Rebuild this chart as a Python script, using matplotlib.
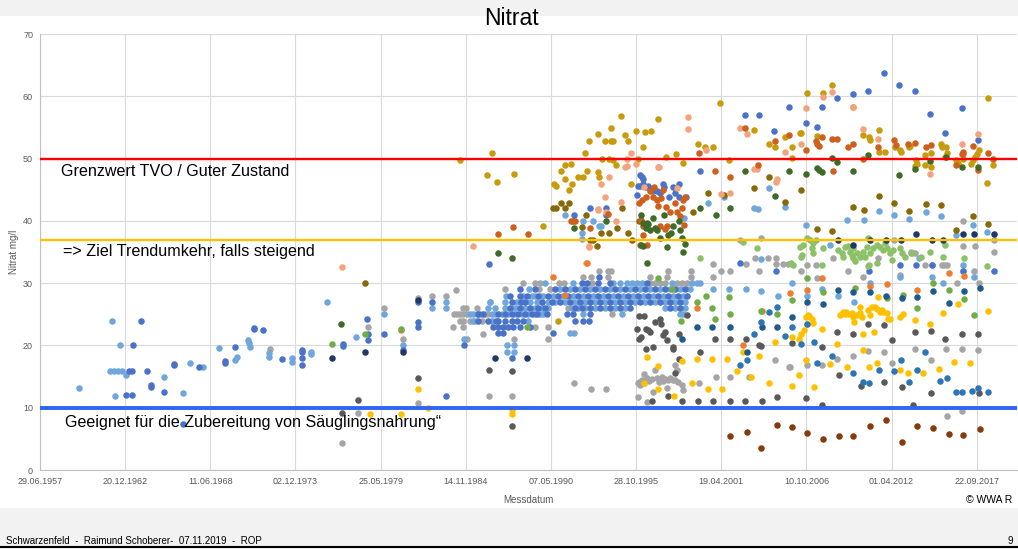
from datetime import datetime
import matplotlib
matplotlib.use("Agg")
import matplotlib.pyplot as plt
from matplotlib.patches import Rectangle
from matplotlib.lines import Line2D

hellblau = [
    (1960.0, 13.2), (1962.14, 24.0), (1962.63, 20.0), (1962.0, 15.9), (1962.25, 15.9), (1962.5, 15.9),
    (1962.75, 15.9), (1963.0, 15.3), (1962.3, 11.9), (1965.46, 15.0), (1966.7, 12.4), (1967.15, 17.1),
    (1967.99, 16.6), (1969.0, 19.6), (1970.18, 18.2), (1970.05, 17.7), (1970.86, 20.8), (1970.9, 20.4),
    (1971.0, 19.8), (1972.2, 18.8), (1972.2, 18.1), (1973.71, 18.0), (1973.71, 17.3), (1974.9, 19.0),
    (1974.9, 18.7), (1975.96, 27.0), (1977.8, 21.3), (1979.6, 25.0), (1980.85, 20.0), (1982.7, 26.0),
    (1983.6, 27.0), (1983.6, 26.0), (1984.73, 21.0), (1987.52, 20.0), (1987.97, 20.0), (1987.52, 19.0),
    (1987.97, 19.0), (1985.35, 24.0), (1986.53, 24.0), (1988.89, 24.0),
    (1985.14, 25), (1985.35, 25), (1985.57, 25), (1985.78, 25), (1986.53, 25), (1986.75, 25), (1987.18, 25),
    (1987.6, 25), (1988.03, 25), (1988.46, 25), (1988.89, 25), (1989.32, 25), (1989.64, 25), (1989.85, 25),
    (1992.42, 25), (1994.89, 25), (1998.64, 25), (1998.85, 25),
    (1986.32, 26), (1986.75, 26), (1987.39, 26), (1988.03, 26), (1988.68, 26), (1989.32, 26), (1989.75, 26),
    (1990.18, 26), (1991.68, 26), (1992.11, 26), (1992.53, 26), (1993.18, 26), (1993.82, 26), (1994.46, 26),
    (1995.11, 26), (1997.68, 26), (1998.32, 26), (1998.96, 26),
    (1986.43, 27), (1987.39, 27), (1988.14, 27), (1989.0, 27), (1989.43, 27), (1990.15, 27), (1990.6, 27),
    (1991.25, 27), (1991.89, 27), (1992.53, 27), (1993.18, 27), (1993.82, 27), (1994.46, 27), (1995.11, 27),
    (1995.75, 27), (1996.39, 27), (1997.03, 27), (1997.68, 27), (1998.32, 27), (1998.96, 27),
    (1987.45, 28), (1988.57, 28), (1989.1, 28), (1989.83, 28), (1990.47, 28), (1991.12, 28), (1991.76, 28),
    (1992.4, 28), (1993.05, 28), (1993.69, 28), (1994.33, 28), (1994.97, 28), (1995.62, 28), (1996.26, 28),
    (1996.9, 28), (1997.55, 28), (1998.19, 28), (1998.83, 28),
    (1988.95, 29), (1990.93, 29), (1991.57, 29), (1992.21, 29), (1992.86, 29), (1993.5, 29), (1994.14, 29),
    (1994.78, 29), (1995.43, 29), (1996.07, 29), (1996.71, 29), (1997.36, 29), (1998.0, 29), (1998.64, 29),
    (1999.28, 29),
    (1989.96, 30), (1991.78, 30), (1994.36, 30), (1994.78, 30), (1995.21, 30), (1995.54, 30), (1995.86, 30),
    (1996.18, 30), (1998.11, 30), (1999.39, 30), (1999.71, 30), (1999.93, 30),
    (1991.85, 22.0), (1991.57, 22.0), (1992.32, 38.0), (1992.32, 37.1), (1991.25, 41.0), (1992.39, 39.9),
    (1993.07, 39.9), (1993.41, 39.2), (1993.58, 39.2),
    (1998.9, 40.4), (2001.47, 43.9), (2004.38, 45.3), (2003.42, 42.0), (2003.68, 41.9), (2005.39, 42.3),
    (2006.74, 39.3), (2000.46, 42.8), (2009.36, 40.1), (2010.47, 40.2), (2011.44, 41.6), (2012.42, 41.0),
    (2013.39, 40.3), (2014.46, 41.5), (2015.4, 40.8), (2016.39, 37.7), (2017.46, 39.3), (2018.4, 38.2),
    (2008.29, 36.1), (2000.78, 29.0), (2001.81, 29.0), (2002.86, 29.0), (2003.85, 28.8), (2004.96, 28.0),
    (2003.85, 33.9), (2005.82, 30.0), (2006.83, 27.9), (2007.79, 29.0), (2008.8, 27.9), (2009.8, 27.0),
    (2010.86, 30.0), (2012.79, 31.0), (2014.82, 31.0), (2016.84, 32.9), (2017.57, 31.0), (2015.55, 30.0),
    (2014.04, 34.0),
]

blau = [
    (1963.96, 24.0), (1963.49, 20.0), (1963.2, 15.9), (1963.4, 15.9), (1963.0, 12.0), (1963.4, 12.0),
    (1964.35, 15.9), (1964.6, 13.7), (1964.6, 13.4), (1965.46, 12.5), (1966.09, 17.0), (1966.09, 16.8),
    (1966.7, 7.4), (1967.7, 16.5), (1969.4, 17.5), (1969.4, 17.1), (1970.03, 19.7), (1971.27, 22.8),
    (1971.27, 22.6), (1971.85, 22.4), (1973.07, 17.9), (1974.32, 19.3), (1974.32, 18.9), (1974.32, 18.0),
    (1974.32, 16.9), (1976.99, 20.3), (1976.99, 19.9), (1978.52, 24.3), (1978.56, 21.9), (1978.56, 20.9),
    (1979.6, 21.9), (1980.85, 19.2), (1981.78, 27.0), (1981.82, 23.8), (1981.82, 23.0), (1982.7, 27.0),
    (1983.6, 11.9), (1986.38, 33.0), (1984.73, 20.0), (1987.86, 18.0),
    (1985.68, 25), (1986.0, 25), (1986.96, 25), (1987.39, 25), (1987.82, 25), (1988.25, 25), (1988.68, 25),
    (1989.1, 25), (1989.45, 25), (1990.07, 25), (1991.36, 25), (1991.78, 25), (1992.86, 25),
    (1987.71, 26), (1988.35, 26), (1989.0, 26), (1989.53, 26), (1989.96, 26), (1991.89, 26), (1992.32, 26),
    (1992.86, 26), (1993.5, 26), (1994.14, 26), (1994.78, 26), (1995.43, 26), (1998.0, 26), (1998.64, 26),
    (1987.82, 27), (1988.42, 27), (1988.68, 27), (1989.75, 27), (1990.39, 27), (1990.93, 27), (1991.57, 27),
    (1992.21, 27), (1992.86, 27), (1993.5, 27), (1994.14, 27), (1994.78, 27), (1995.43, 27), (1996.07, 27),
    (1996.71, 27), (1997.36, 27), (1998.0, 27), (1998.64, 27),
    (1987.71, 28), (1988.35, 28), (1988.82, 28), (1989.53, 28), (1990.15, 28), (1990.8, 28), (1991.44, 28),
    (1992.08, 28), (1992.73, 28), (1993.37, 28), (1994.01, 28), (1994.65, 28), (1995.3, 28), (1995.94, 28),
    (1996.58, 28), (1997.22, 28), (1997.87, 28), (1998.51, 28), (1999.07, 28),
    (1988.35, 29), (1989.32, 29), (1990.6, 29), (1991.25, 29), (1991.89, 29), (1992.53, 29), (1993.18, 29),
    (1993.82, 29), (1994.46, 29), (1995.11, 29), (1995.75, 29), (1996.39, 29), (1997.03, 29), (1997.68, 29),
    (1998.32, 29), (1998.96, 29),
    (1992.32, 30), (1992.64, 30), (1993.39, 30), (1994.14, 30), (1996.5, 30), (1993.43, 31),
    (1985.68, 24), (1986.32, 24), (1986.81, 24), (1986.96, 24), (1987.39, 24), (1987.82, 24), (1988.14, 24),
    (1988.57, 24), (1991.89, 24), (1992.42, 24), (1992.81, 24),
    (1986.6, 23), (1986.96, 23), (1987.28, 23), (1987.6, 23), (1987.92, 23), (1988.35, 23), (1989.0, 23),
    (1986.96, 22), (1987.28, 22), (1990.5, 22),
    (1996.07, 47.4), (1996.18, 47.0), (1996.28, 46.7), (1996.28, 45.9), (1995.92, 45.6), (1996.07, 45.6),
    (1996.46, 45.5), (1996.6, 45.6), (1996.71, 45.1), (1996.88, 44.8), (1997.18, 44.8), (1997.36, 44.5),
    (1997.57, 45.9), (1997.62, 45.5), (1998.17, 45.4), (1998.6, 45.9), (1998.3, 44.5), (1998.6, 43.9),
    (1999.01, 43.9), (1995.9, 44.1), (1997.92, 43.9), (1999.91, 48.0), (1992.86, 42.0), (1991.85, 41.0),
    (1993.88, 42.0), (1993.88, 40.9),
    (2002.82, 57.0), (2003.7, 57.0), (2004.7, 54.5), (2005.67, 58.2), (2011.76, 63.8), (2012.74, 61.8),
    (2013.75, 60.9), (2010.73, 60.8), (2009.75, 60.4), (2008.74, 59.7), (2007.75, 58.2), (2014.74, 57.2),
    (2016.76, 58.1), (2006.74, 55.7), (2007.43, 55.0), (2015.7, 54.1), (2017.78, 53.0),
    (2002.5, 33.3), (2004.82, 32.0), (2012.79, 32.9), (2013.82, 32.9), (2014.82, 32.9), (2010.82, 32.0),
    (2018.83, 32.0), (2016.86, 32.0),
]

grau = [
    (1972.3, 19.5), (1976.93, 4.4), (1977.94, 9.1), (1978.56, 23.0), (1979.6, 26.0), (1980.85, 21.0),
    (1981.78, 27.6), (1981.78, 10.8), (1982.7, 28.0), (1983.6, 28.0), (1984.26, 28.9),
    (1984.09, 25), (1984.3, 25), (1984.52, 25), (1984.71, 25), (1984.95, 25), (1986.1, 25), (1986.32, 25),
    (1994.25, 25), (1984.7, 26), (1984.88, 26), (1985.57, 26), (1991.46, 26), (1986.44, 27),
    (1989.32, 28), (1989.64, 28), (1987.39, 29), (1989.6, 29), (1990.28, 29),
    (1988.56, 30), (1989.32, 30), (1989.64, 30), (1990.88, 30), (1991.18, 30), (1992.97, 30), (1996.71, 30),
    (1997.03, 30), (1997.36, 30), (1997.68, 30), (1998.43, 30), (1998.75, 30), (1999.07, 30),
    (1992.42, 31), (1992.92, 31), (1994.03, 31), (1996.71, 31), (1997.82, 31), (1999.34, 31), (2000.78, 31),
    (1993.45, 32), (1994.03, 32), (1994.18, 32), (1997.84, 32), (1999.34, 32), (2001.27, 32), (2001.85, 32),
    (2003.73, 32), (1984.5, 24), (1984.71, 24), (1985.14, 24), (1985.46, 24), (1985.89, 24), (1986.53, 24),
    (1984.07, 23), (1984.71, 23), (1989.32, 23), (1990.15, 23), (1985.99, 21.9), (1984.95, 21),
    (1987.97, 21), (1990.18, 21),
    (1986.38, 11.9), (1987.86, 11.9), (1991.83, 14.0), (1992.9, 13.0), (1993.88, 13.0),
    (1995.97, 13.9), (1996.18, 14.4), (1996.5, 14.7), (1996.82, 14.6), (1997.14, 14.7), (1997.46, 14.9),
    (1997.68, 14.6), (1997.89, 14.4), (1998.21, 14.4), (1998.53, 14.2), (1998.75, 13.6), (1995.97, 11.7),
    (1996.5, 10.9), (1996.93, 12.6), (1997.79, 13.1), (1998.32, 16.9), (1998.43, 16.1), (1997.03, 16.1),
    (1998.81, 12.8), (1996.3, 15.4), (1996.0, 14.2), (1996.35, 14.0), (1996.65, 14.3), (1997.3, 14.2),
    (1997.55, 14.3), (1998.0, 14.7), (1998.35, 14.5), (1996.1, 13.6),
    (2000.93, 15.0), (2001.86, 15.0), (2003.1, 15.0), (2004.75, 17.7), (1999.89, 14.0), (2005.65, 16.6),
    (2000.78, 33.0), (2002.86, 33.0), (2004.82, 33.0), (2005.28, 33.0), (2005.6, 33.0), (2003.47, 34.0),
    (2004.28, 34.0), (2004.82, 34.0), (2002.5, 37.0), (2003.85, 37.3),
    (2006.79, 32.9), (2007.39, 32.9), (2008.5, 34.0), (2009.47, 31.9), (2010.43, 31.0), (2011.39, 34.0),
    (2012.79, 31.3), (2013.47, 35.0), (2013.75, 34.8), (2014.39, 32.9), (2014.82, 32.9), (2015.47, 32.9),
    (2015.62, 32.9), (2015.79, 32.9), (2016.43, 30.0), (2016.86, 32.0), (2017.54, 32.0), (2017.87, 30.0),
    (2018.83, 35.0), (2006.4, 31.9), (2007.43, 30.8),
    (2005.71, 16.6), (2006.79, 16.9), (2007.75, 16.9), (2008.72, 17.9), (2009.75, 18.3), (2010.75, 19.1),
    (2011.76, 19.0), (2012.25, 17.2), (2013.75, 19.5), (2014.76, 17.7), (2015.73, 19.5), (2016.76, 19.4),
    (2017.78, 19.2), (2015.81, 8.6), (2016.77, 9.5),
    (2016.86, 40.0), (2016.84, 36.0), (2017.61, 36.0), (2018.85, 36.9), (2013.5, 34.9), (2012.4, 36.9),
]

dunkelgrau = [
    (1976.93, 9.1), (1977.94, 11.2), (1981.78, 14.8), (1986.38, 16.0), (1987.86, 15.9), (1987.86, 7.0),
    (1996.01, 24.8), (1996.33, 24.8), (1995.9, 22.6), (1996.46, 22.6), (1996.6, 22.5), (1996.71, 22.2),
    (1996.01, 21.0), (1996.14, 21.3), (1996.46, 19.4), (1996.93, 19.8), (1997.03, 23.8), (1997.36, 24.3),
    (1997.42, 23.5), (1997.68, 22.2), (1997.57, 21.7), (1997.83, 20.9), (1998.17, 19.4), (1998.21, 19.8),
    (1998.6, 17.9), (1998.6, 21.9), (1998.32, 15.5), (1999.07, 24.9), (1999.93, 19.0), (2000.91, 21.0),
    (2001.86, 21.0), (2002.86, 21.0), (2003.7, 20.0), (1997.85, 11.9), (1996.82, 11.0), (1998.75, 11.0),
    (1999.82, 11.0), (2000.78, 11.0), (2001.86, 11.0), (2002.82, 11.0), (2003.89, 11.0), (2004.86, 11.7),
    (2003.87, 19.9), (2008.76, 22.2), (2009.79, 21.9), (2010.75, 23.4), (2011.76, 23.2), (2012.25, 20.8),
    (2013.75, 22.2), (2014.76, 22.3), (2015.7, 21.1), (2016.76, 21.8), (2017.78, 21.8), (2007.75, 19.7),
    (2008.87, 15.2), (2010.28, 13.5), (2011.76, 14.2), (2012.9, 13.4), (2014.76, 12.4), (2006.74, 11.5),
    (2007.79, 10.5), (2013.6, 10.5), (2017.85, 12.4), (2005.82, 20.4),
]

gold = [
    (1978.71, 9.0), (1980.68, 9.0), (1981.78, 13.0), (1982.44, 10.0), (1987.86, 9.6), (1987.86, 9.0),
    (1996.5, 18.1), (1997.25, 16.7), (1996.33, 14.0), (1997.25, 13.0), (1998.28, 11.9), (1998.75, 17.5),
    (1999.39, 14.0), (1999.75, 17.8), (2000.46, 13.0), (2000.68, 17.9), (2001.32, 13.0), (2001.68, 17.8),
    (2002.33, 15.9), (2002.71, 18.9), (2003.21, 15.0), (2003.74, 18.3), (2004.38, 14.0), (2004.75, 20.6),
    (2005.82, 21.4), (2006.31, 21.1), (2006.42, 21.9), (2006.62, 22.5), (2006.79, 23.5), (2006.96, 24.7),
    (2007.11, 24.3), (2006.72, 24.6), (2006.89, 24.9), (2007.21, 23.6), (2007.77, 22.7), (2008.75, 20.3),
    (2008.93, 24.9), (2009.14, 25.4), (2009.31, 25.3), (2009.47, 25.0), (2009.69, 25.2), (2009.79, 24.6),
    (2009.83, 23.8), (2010.0, 24.9), (2010.22, 25.2), (2010.32, 24.6), (2010.75, 25.7), (2010.86, 24.9),
    (2010.97, 26.1), (2011.18, 26.2), (2011.33, 25.8), (2011.5, 25.4), (2011.61, 25.7), (2011.72, 25.3),
    (2011.93, 25.2), (2012.04, 24.3), (2012.14, 24.2), (2010.22, 26.1), (2009.25, 25.0),
    (2010.39, 21.9), (2011.14, 22.2), (2011.35, 27.7), (2012.79, 24.6), (2012.96, 25.0), (2013.75, 24.1),
    (2014.72, 23.4), (2015.57, 25.2), (2016.5, 26.6), (2018.46, 25.6), (2010.43, 19.3), (2009.36, 16.5),
    (2008.29, 17.0), (2007.28, 13.3), (2006.3, 15.2), (2005.84, 13.5), (2006.74, 17.7), (2010.79, 16.6),
    (2011.29, 17.1), (2012.79, 16.1), (2013.32, 15.6), (2014.29, 15.5), (2015.32, 16.2), (2016.29, 17.3),
    (2017.29, 17.1),
]

dunkelgold = [
    (1984.52, 49.7), (1986.53, 50.9), (1986.21, 47.4), (1986.85, 46.2), (1987.99, 47.6), (1989.81, 39.2),
    (1990.54, 45.9), (1990.67, 45.6), (1990.97, 48.0), (1991.23, 48.9), (1991.62, 49.2), (1991.25, 46.8),
    (1991.49, 44.9), (1991.7, 45.9), (1992.08, 47.0), (1992.39, 47.0), (1992.64, 48.0), (1992.55, 50.9),
    (1992.81, 52.9), (1993.37, 54.0), (1993.8, 52.9), (1994.18, 52.9), (1994.35, 52.9), (1994.87, 56.9),
    (1994.21, 54.9), (1993.63, 50.0), (1993.37, 47.9), (1993.41, 47.0), (1994.1, 50.0), (1994.35, 49.8),
    (1994.51, 48.9), (1995.13, 53.8), (1995.3, 52.9), (1995.81, 54.5), (1996.41, 54.2), (1996.8, 54.5),
    (1997.25, 56.3), (1995.94, 50.0), (1996.28, 51.9), (1997.72, 50.2), (1998.38, 50.7), (1998.81, 49.3),
    (2001.21, 58.9), (1999.8, 52.4), (2000.23, 51.9), (2000.76, 51.8), (2001.81, 49.8), (2003.4, 54.6),
    (1995.51, 45.9), (2004.38, 52.4), (2004.77, 51.9), (2005.39, 53.4), (2005.82, 51.9), (2006.42, 54.1),
    (2006.83, 60.5), (2007.82, 60.5), (2008.4, 61.8), (2009.79, 58.2), (2007.43, 53.7), (2005.84, 50.1),
    (2010.43, 53.8), (2010.8, 53.4), (2010.84, 53.0), (2011.42, 54.6), (2011.46, 51.0), (2011.8, 51.0),
    (2012.44, 51.9), (2012.79, 51.4), (2012.83, 51.0), (2013.37, 51.8), (2013.46, 52.0), (2013.8, 49.8),
    (2013.85, 49.2), (2013.77, 48.8), (2014.39, 50.6), (2014.41, 48.9), (2014.8, 50.9), (2014.8, 48.7),
    (2015.4, 52.4), (2015.47, 51.8), (2015.74, 51.8), (2015.79, 50.9), (2015.7, 50.3), (2016.39, 49.8),
    (2016.5, 49.3), (2016.86, 50.8), (2016.86, 50.0), (2017.36, 49.2), (2017.5, 49.8), (2017.63, 50.3),
    (2017.72, 50.8), (2017.85, 51.3), (2018.79, 48.9), (2018.43, 59.8), (2018.36, 46.0), (2006.38, 54.1),
    (1990.82, 24.0),
]

oliv = [
    (1978.41, 30.0), (1990.5, 42.0), (1990.67, 42.0), (1990.97, 42.9), (1991.25, 42.0), (1991.5, 42.9),
    (1991.74, 40.0), (1992.36, 39.0), (1992.58, 40.9), (1993.56, 38.0), (1994.08, 38.0), (1994.61, 38.9),
    (1994.89, 42.0), (1995.28, 38.0), (1995.54, 36.9), (1993.07, 36.9), (1992.86, 36.9), (1993.32, 36.0),
    (1996.02, 40.0), (1999.5, 41.5), (2000.46, 44.5), (2001.49, 44.1), (2003.42, 45.2), (2004.38, 47.1),
    (2005.37, 43.1), (2006.4, 44.9), (2011.42, 44.0), (2009.79, 42.3), (2010.48, 41.7), (2012.4, 42.8),
    (2013.39, 41.6), (2014.46, 42.7), (2015.4, 42.5), (2007.43, 38.7), (2008.4, 38.4), (2016.39, 38.5),
    (2017.46, 40.7), (2018.43, 39.5),
]

lachs = [
    (1985.31, 36.0), (1976.93, 32.6), (1994.87, 43.0), (1995.52, 50.9), (1995.13, 48.7), (1995.26, 50.0),
    (1995.79, 49.1), (1994.06, 47.0), (1993.58, 45.9), (1993.8, 43.8), (1993.37, 41.9), (1993.86, 41.5),
    (1994.53, 40.0), (1992.81, 36.0), (1997.27, 48.6), (1999.18, 56.6), (1999.18, 54.8), (1998.43, 45.3),
    (2002.5, 54.9), (2002.93, 53.9), (2003.4, 48.4), (2004.86, 46.7), (2004.82, 46.3), (2001.86, 44.4),
    (2001.28, 44.3), (1996.35, 45.5), (2000.29, 51.3), (2006.74, 58.1), (2007.82, 59.9), (2008.4, 60.7),
    (2009.79, 58.3), (2006.42, 52.3), (2010.39, 54.8), (2011.39, 53.2), (2014.72, 47.5), (2016.79, 52.3),
    (2017.8, 53.9), (1992.6, 33.2), (1992.77, 35.8), (1993.35, 41.8), (1995.21, 48.8), (1997.25, 48.7),
    (2005.39, 51.1), (2003.57, 48.4),
]

dunkelorange = [
    (1986.96, 37.9), (1987.88, 39.0), (1988.89, 37.9), (1996.02, 42.8), (1996.18, 43.3), (1996.46, 43.9),
    (1996.71, 44.8), (1996.99, 45.5), (1996.93, 43.9), (1997.14, 43.3), (1997.25, 42.4), (1997.44, 43.7),
    (1997.57, 44.9), (1997.74, 42.3), (1998.0, 41.5), (1998.3, 42.8), (1998.47, 41.5), (1998.64, 40.7),
    (1998.75, 42.0), (1998.81, 43.3), (1998.98, 43.9), (1997.36, 39.2), (1997.68, 38.7), (1997.83, 39.2),
    (1996.13, 40.2), (1996.28, 39.1), (1996.28, 37.7), (1996.5, 36.2), (1996.07, 36.1), (1998.9, 39.4),
    (1992.86, 38.9), (1991.63, 40.0), (1991.89, 40.0), (1993.99, 41.1), (1999.88, 50.9), (2000.91, 48.0),
    (2001.86, 47.0), (2002.84, 54.9), (2003.68, 48.9), (2004.75, 52.9), (2005.63, 53.8), (2006.74, 51.3),
    (2007.39, 52.8), (2007.47, 52.4), (2007.6, 52.0), (2007.75, 53.4), (2008.42, 53.1), (2008.76, 53.2),
    (2009.47, 51.9), (2009.79, 52.3), (2010.43, 49.9), (2008.46, 48.0), (2011.39, 51.9), (2012.4, 53.0),
    (2012.53, 52.2), (2013.32, 52.4), (2013.75, 52.5), (2014.44, 51.9), (2014.76, 52.2), (2016.39, 49.0),
    (2016.76, 50.8), (2016.82, 51.1), (2017.46, 52.0), (2017.78, 48.2), (2018.43, 50.9), (2018.79, 50.0),
]

orange = [
    (1980.72, 22.4), (1990.5, 31.0), (1992.64, 33.2), (1991.25, 28.1), (2003.89, 25.6), (2002.71, 20.0),
    (2007.79, 30.8), (2010.86, 29.5), (2011.93, 29.9), (2013.9, 28.9), (2015.94, 31.7), (2016.88, 31.1),
    (2005.71, 28.4), (2006.83, 28.9), (1999.71, 26.0),
]

dunkelgruen = [
    (1986.96, 34.9), (1987.86, 34.0), (1976.86, 23.4), (1996.12, 40.9), (1996.28, 39.6), (1996.5, 39.6),
    (1996.46, 38.8), (1996.71, 38.5), (1996.93, 40.4), (1997.18, 38.5), (1997.36, 37.2), (1997.61, 40.9),
    (1997.89, 37.7), (1998.04, 38.1), (1998.21, 39.2), (1998.56, 40.0), (1998.64, 38.5), (1998.75, 37.2),
    (1998.96, 36.3), (1998.81, 35.0), (1997.83, 35.8), (1996.13, 36.2), (1996.28, 36.0), (1996.6, 39.5),
    (1997.03, 38.8), (1991.83, 38.9), (1993.88, 39.9), (1999.93, 42.0), (2000.94, 40.9), (2001.86, 42.0),
    (2002.82, 48.0), (2004.75, 44.0), (2005.67, 48.0), (2006.74, 47.5), (2007.43, 48.5), (2007.6, 48.2),
    (2007.75, 47.8), (2008.43, 50.1), (2008.76, 49.4), (2009.75, 48.0), (2010.75, 50.6), (2012.74, 47.4),
    (2013.75, 48.3), (2014.72, 49.6), (2015.75, 50.3), (2016.76, 48.7), (2017.82, 48.7), (1996.5, 33.3),
]

hellgruen = [
    (2006.36, 35.8), (2006.57, 36.1), (2006.79, 37.2), (2007.0, 36.9), (2007.21, 36.4), (2007.38, 36.9),
    (2007.11, 35.6), (2006.47, 34.5), (2006.4, 34.2), (2007.21, 34.9), (2007.85, 35.7), (2007.75, 32.9),
    (2009.04, 34.8), (2009.15, 34.2), (2009.25, 35.8), (2009.47, 36.0), (2009.58, 35.0), (2009.69, 34.5),
    (2009.79, 34.0), (2009.79, 35.6), (2010.0, 34.8), (2010.22, 34.2), (2010.43, 35.0), (2010.54, 34.2),
    (2010.65, 35.8), (2010.86, 34.8), (2011.07, 35.6), (2011.29, 36.1), (2011.5, 35.8), (2011.67, 35.3),
    (2011.82, 36.4), (2011.93, 35.6), (2012.14, 34.8), (2012.25, 33.7), (2012.36, 35.3), (2012.79, 35.6),
    (2012.9, 34.8), (2013.11, 34.2), (2013.54, 34.9), (2014.12, 34.2), (2014.72, 35.0), (2015.58, 34.2),
    (2015.68, 36.1), (2010.72, 37.3), (2010.75, 32.7), (2011.29, 33.2), (2003.57, 35.6), (2002.71, 36.6),
    (1999.93, 34.0), (2016.9, 34.0), (2018.36, 32.8), (2005.9, 32.9), (2005.75, 33.2), (2010.8, 32.9),
    (2008.8, 35.4), (2009.9, 33.5),
]

gruen = [
    (1976.27, 20.3), (1978.41, 21.9), (1980.72, 22.6), (1988.82, 23.0), (1997.23, 30.9), (1998.11, 29.0),
    (1998.71, 24.0), (2000.29, 28.0), (2000.72, 26.0), (2000.89, 24.3), (2001.86, 25.0), (2001.81, 27.7),
    (2003.85, 25.6), (2004.86, 25.0), (2006.79, 30.9), (2005.86, 27.3), (2007.86, 28.5), (2011.93, 27.6),
    (2013.0, 28.1), (2013.9, 26.0), (2014.89, 30.0), (2015.92, 28.9), (2016.9, 27.5), (2017.55, 24.9),
    (2009.9, 29.2), (1999.71, 26.9),
]

navy = [
    (1976.27, 18.0), (1978.41, 19.0), (1980.85, 19.0), (1981.78, 27.3), (1986.77, 18.0), (1988.82, 18.0),
    (2008.82, 36.9), (2009.75, 36.1), (2010.86, 36.9), (2011.87, 36.9), (2012.83, 36.9), (2013.82, 37.9),
    (2014.86, 36.9), (2015.57, 36.9), (2016.86, 37.9), (2017.57, 37.9), (2018.85, 37.9),
]

dunkelblau = [
    (2008.8, 28.9), (2009.78, 28.5), (2010.86, 28.6), (2011.89, 27.9), (2012.9, 27.6), (2013.9, 27.7),
    (2014.89, 28.8), (2015.92, 26.8), (2016.9, 28.8), (2017.93, 29.2), (1999.71, 23.0), (2000.72, 23.0),
    (2001.86, 23.0), (2003.89, 23.0), (2004.86, 23.0), (1998.75, 21.0), (2002.93, 19.0), (2006.83, 27.0),
    (2007.86, 26.6), (2005.82, 24.6),
]

stahlblau = [
    (2002.5, 16.9), (2002.97, 17.7), (2003.42, 21.9), (2003.85, 23.7), (2004.38, 25.4), (2004.86, 26.2),
    (2005.39, 21.5), (2005.82, 23.0), (2006.42, 20.2), (2007.28, 20.6), (2008.4, 18.3), (2007.43, 17.2),
    (2009.79, 15.5), (2010.39, 14.2), (2010.81, 13.9), (2011.42, 16.0), (2012.42, 15.9), (2012.83, 17.6),
    (2013.39, 14.2), (2013.86, 16.0), (2014.39, 19.0), (2015.38, 14.3), (2015.81, 14.8), (2016.37, 12.5),
    (2016.77, 12.5), (2017.44, 12.7), (2017.82, 13.2), (2018.43, 12.6), (2006.83, 23.4),
]

braun = [
    (2001.86, 5.5), (2002.93, 6.1), (2003.85, 3.6), (2004.86, 7.3), (2005.82, 6.9), (2006.83, 5.9),
    (2007.86, 5.0), (2008.87, 5.5), (2009.79, 5.5), (2010.86, 7.1), (2011.89, 8.0), (2012.9, 4.5),
    (2013.9, 7.0), (2014.9, 6.8), (2015.94, 5.8), (2016.86, 5.6), (2017.93, 6.6),
]

datums_ticks = ['29.06.1957', '20.12.1962', '11.06.1968', '02.12.1973', '25.05.1979', '14.11.1984',
                '07.05.1990', '28.10.1995', '19.04.2001', '10.10.2006', '01.04.2012', '22.09.2017']

grenzwert = 50
ziel_trend = 37
saeugling = 10

reihen = [
    (grau, '#a5a5a5'), (hellblau, '#6fa6dc'), (blau, '#4a72c8'), (dunkelgrau, '#595959'),
    (gold, '#ffc000'), (dunkelgold, '#c89b0c'), (oliv, '#876908'), (lachs, '#f4a37c'),
    (dunkelorange, '#cf5f1c'), (orange, '#ed7d31'), (dunkelgruen, '#3f6b27'), (hellgruen, '#8cc168'),
    (gruen, '#70ad47'), (navy, '#203864'), (dunkelblau, '#1f5a8c'), (stahlblau, '#2e75b6'),
    (braun, '#843c0c'),
]


def dezimaljahr(s):
    d = datetime.strptime(s, '%d.%m.%Y')
    return d.year + (d - datetime(d.year, 1, 1)).days / 365.25


W, H = 1018, 549
fig = plt.figure(figsize=(W / 100, H / 100), dpi=100, facecolor='#f2f2f2')
fig.patches.append(Rectangle((0, 1 - 508 / H), 1, (508 - 16) / H, transform=fig.transFigure,
                             facecolor='white', edgecolor='none', zorder=-10))
fig.lines.append(Line2D([0, 1], [1 - 547 / H, 1 - 547 / H], transform=fig.transFigure,
                        color='black', lw=1.5))

ax = fig.add_axes([40 / W, 1 - 470 / H, 977 / W, 436 / H])
ax.set_facecolor('none')

for daten, farbe in reihen:
    xs = [p[0] for p in daten]
    ys = [p[1] for p in daten]
    ax.scatter(xs, ys, s=22, color=farbe, linewidths=0, zorder=2)

ax.axhline(grenzwert, color='#ff0000', lw=1.7, zorder=3)
ax.axhline(ziel_trend, color='#ffc000', lw=1.7, zorder=3)
ax.axhline(saeugling, color='#2f64f5', lw=2.8, zorder=3)

x0 = dezimaljahr(datums_ticks[0])
ax.set_xlim(x0, x0 + 977 * 0.0643)
ax.set_ylim(0, 70)
ax.set_xticks([dezimaljahr(t) for t in datums_ticks])
ax.set_xticklabels(datums_ticks)
ax.set_yticks(range(0, 71, 10))
ax.grid(True, color='#d9d9d9', lw=0.8, zorder=0)
ax.set_axisbelow(True)
for s in ['top', 'right']:
    ax.spines[s].set_visible(False)
ax.spines['left'].set_color('#bfbfbf')
ax.spines['bottom'].set_color('#bfbfbf')
ax.tick_params(length=0, colors='#595959', labelsize=6.5, pad=5)
for lab in ax.get_xticklabels() + ax.get_yticklabels():
    lab.set_family(['Liberation Sans Narrow', 'Liberation Sans', 'DejaVu Sans'])

ax.set_ylabel('Nitrat mg/l', fontsize=7, color='#595959', labelpad=3,
              family=['Liberation Sans', 'DejaVu Sans'])
fig.text(528 / W, 1 - 500 / H, 'Messdatum', ha='center', va='center', fontsize=7, color='#595959',
         family=['Liberation Sans Narrow', 'Liberation Sans', 'DejaVu Sans'])
fig.text(1012 / W, 1 - 500 / H, '© WWA R', ha='right', va='center', fontsize=7.5, color='black',
         family=['Liberation Sans', 'DejaVu Sans'])

fig.text(511 / W, 1 - 25 / H, 'Nitrat', ha='center', va='baseline', fontsize=16.5,
         family=['Liberation Sans', 'DejaVu Sans'])

fig.text(61 / W, 1 - 176.5 / H, 'Grenzwert TVO / Guter Zustand', va='baseline', fontsize=11.6,
         family=['Liberation Sans', 'DejaVu Sans'], zorder=5)
fig.text(63 / W, 1 - 256 / H, '=> Ziel Trendumkehr, falls steigend', va='baseline', fontsize=11.6,
         family=['Liberation Sans', 'DejaVu Sans'], zorder=5)
fig.text(65 / W, 1 - 426.5 / H, 'Geeignet für die Zubereitung von Säuglingsnahrung“', va='baseline',
         fontsize=11.6, family=['Liberation Sans', 'DejaVu Sans'], zorder=5)

fig.text(6 / W, 1 - 544 / H, 'Schwarzenfeld  -  Raimund Schoberer-  07.11.2019  -  ROP', va='baseline',
         fontsize=7, family=['Liberation Sans', 'DejaVu Sans'])
fig.text(1013 / W, 1 - 544 / H, '9', ha='right', va='baseline', fontsize=7,
         family=['Liberation Sans', 'DejaVu Sans'])

fig.savefig('out.png', dpi=100, facecolor=fig.get_facecolor())
